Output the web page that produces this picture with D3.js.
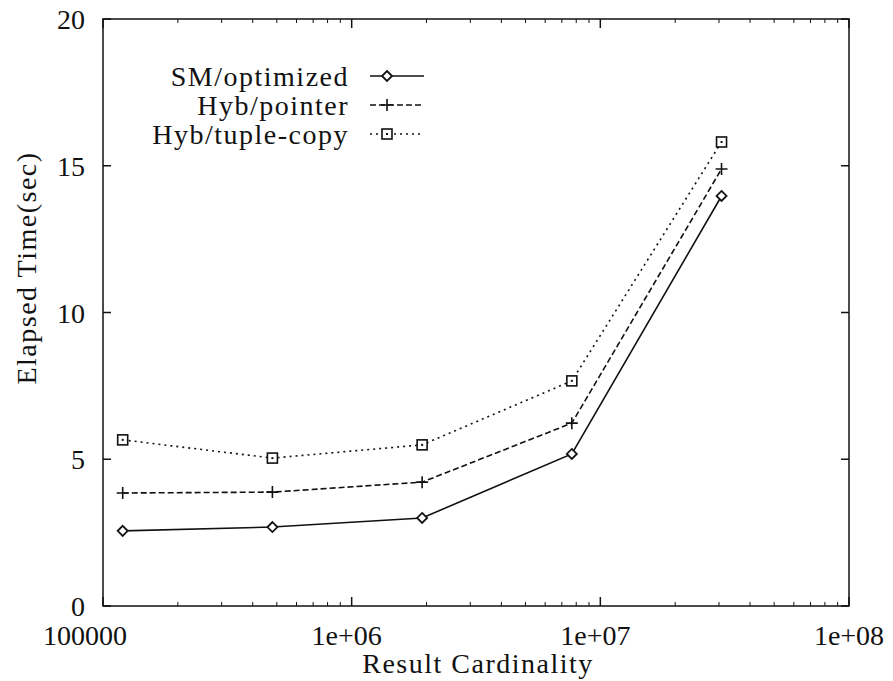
<!DOCTYPE html>
<html>
<head>
<meta charset="utf-8">
<script src="https://cdn.jsdelivr.net/npm/d3@7"></script>
<style>
  body { margin: 0; background: #fff; }
  text { font-family: "Liberation Serif", serif; fill: #111; }
</style>
</head>
<body>
<script>
// data
var cardinality = [120000, 480000, 1920000, 7680000, 30720000];
var smOptimized = [2.56, 2.69, 3.0, 5.18, 13.97];
var hybPointer = [3.85, 3.88, 4.22, 6.23, 14.89];
var hybTupleCopy = [5.66, 5.04, 5.49, 7.67, 15.81];
var seriesNames = ["SM/optimized", "Hyb/pointer", "Hyb/tuple-copy"];
var xTickVals = [1e5, 1e6, 1e7, 1e8];
var xTickLabels = ["100000", "1e+06", "1e+07", "1e+08"];
var yTickVals = [0, 5, 10, 15, 20];

var width = 893, height = 681;
var plotLeft = 103, plotRight = 849, plotTop = 19, plotBottom = 606;

var svg = d3.select("body").append("svg")
  .attr("width", width)
  .attr("height", height);

var x = d3.scaleLog().domain([1e5, 1e8]).range([plotLeft, plotRight]);
var y = d3.scaleLinear().domain([0, 20]).range([plotBottom, plotTop]);

var series = [
  {name: seriesNames[0], values: smOptimized, dash: null, marker: "diamond"},
  {name: seriesNames[1], values: hybPointer, dash: "6,3", marker: "plus"},
  {name: seriesNames[2], values: hybTupleCopy, dash: "2,4", marker: "square"}
];

// minor log ticks
var minor = [];
for (var e = 5; e < 8; e++) {
  for (var m = 2; m <= 9; m++) minor.push(m * Math.pow(10, e));
}

var axes = svg.append("g").attr("stroke", "#111").attr("stroke-width", 1.5);
axes.append("rect")
  .attr("x", plotLeft).attr("y", plotTop)
  .attr("width", plotRight - plotLeft).attr("height", plotBottom - plotTop)
  .attr("fill", "none");

xTickVals.forEach(function(v) {
  axes.append("line").attr("x1", x(v)).attr("x2", x(v)).attr("y1", plotBottom).attr("y2", plotBottom - 9);
  axes.append("line").attr("x1", x(v)).attr("x2", x(v)).attr("y1", plotTop).attr("y2", plotTop + 9);
});
minor.forEach(function(v) {
  axes.append("line").attr("x1", x(v)).attr("x2", x(v)).attr("y1", plotBottom).attr("y2", plotBottom - 4).attr("stroke-width", 1);
  axes.append("line").attr("x1", x(v)).attr("x2", x(v)).attr("y1", plotTop).attr("y2", plotTop + 4).attr("stroke-width", 1);
});
yTickVals.forEach(function(v) {
  axes.append("line").attr("x1", plotLeft).attr("x2", plotLeft + 8).attr("y1", y(v)).attr("y2", y(v));
  axes.append("line").attr("x1", plotRight).attr("x2", plotRight - 8).attr("y1", y(v)).attr("y2", y(v));
});

// tick labels
svg.append("g").selectAll("text")
  .data(xTickVals)
  .enter().append("text")
  .attr("x", function(d, i) { return x(d) + (i == 0 ? -18 : (i == 1 || i == 2 ? -5 : 0)); })
  .attr("y", 645)
  .attr("text-anchor", "middle")
  .attr("font-size", 28)
  .text(function(d, i) { return xTickLabels[i]; });

svg.append("g").selectAll("text")
  .data(yTickVals)
  .enter().append("text")
  .attr("x", 85)
  .attr("y", function(d) { return y(d) + 10; })
  .attr("text-anchor", "end")
  .attr("font-size", 28)
  .text(function(d) { return d; });

// axis titles
svg.append("text")
  .attr("x", 478).attr("y", 673)
  .attr("text-anchor", "middle")
  .attr("font-size", 28)
  .attr("letter-spacing", 1.5)
  .text("Result Cardinality");

svg.append("text")
  .attr("transform", "translate(36,268) rotate(-90)")
  .attr("text-anchor", "middle")
  .attr("font-size", 28)
  .attr("letter-spacing", 1.5)
  .text("Elapsed Time(sec)");

function drawMarker(g, kind, cx, cy) {
  if (kind == "diamond") {
    g.append("path")
      .attr("d", "M" + cx + "," + (cy - 5) + "L" + (cx + 5) + "," + cy + "L" + cx + "," + (cy + 5) + "L" + (cx - 5) + "," + cy + "Z")
      .attr("fill", "#fff").attr("stroke", "#111").attr("stroke-width", 1.8);
  } else if (kind == "plus") {
    g.append("path")
      .attr("d", "M" + (cx - 6) + "," + cy + "H" + (cx + 6) + "M" + cx + "," + (cy - 6) + "V" + (cy + 6))
      .attr("stroke", "#111").attr("stroke-width", 1.6);
  } else {
    g.append("rect")
      .attr("x", cx - 5).attr("y", cy - 5).attr("width", 10).attr("height", 10)
      .attr("fill", "#fff").attr("stroke", "#111").attr("stroke-width", 1.6);
    g.append("rect")
      .attr("x", cx - 1).attr("y", cy - 1).attr("width", 2).attr("height", 2)
      .attr("fill", "#111");
  }
}

var line = d3.line()
  .x(function(d, i) { return x(cardinality[i]); })
  .y(function(d) { return y(d); });

series.forEach(function(s) {
  var g = svg.append("g");
  g.append("path")
    .attr("d", line(s.values))
    .attr("fill", "none")
    .attr("stroke", "#111")
    .attr("stroke-width", 1.6)
    .attr("stroke-dasharray", s.dash);
  s.values.forEach(function(v, i) {
    drawMarker(g, s.marker, x(cardinality[i]), y(v));
  });
});

// legend
series.forEach(function(s, i) {
  var ly = 76 + i * 29;
  var g = svg.append("g");
  g.append("text")
    .attr("x", 349).attr("y", ly + 10)
    .attr("text-anchor", "end")
    .attr("font-size", 28)
    .attr("letter-spacing", 1.5)
    .text(s.name);
  g.append("line")
    .attr("x1", 370).attr("x2", 424)
    .attr("y1", ly).attr("y2", ly)
    .attr("stroke", "#111").attr("stroke-width", 1.6)
    .attr("stroke-dasharray", s.dash);
  drawMarker(g, s.marker, 387, ly);
});
</script>
</body>
</html>
